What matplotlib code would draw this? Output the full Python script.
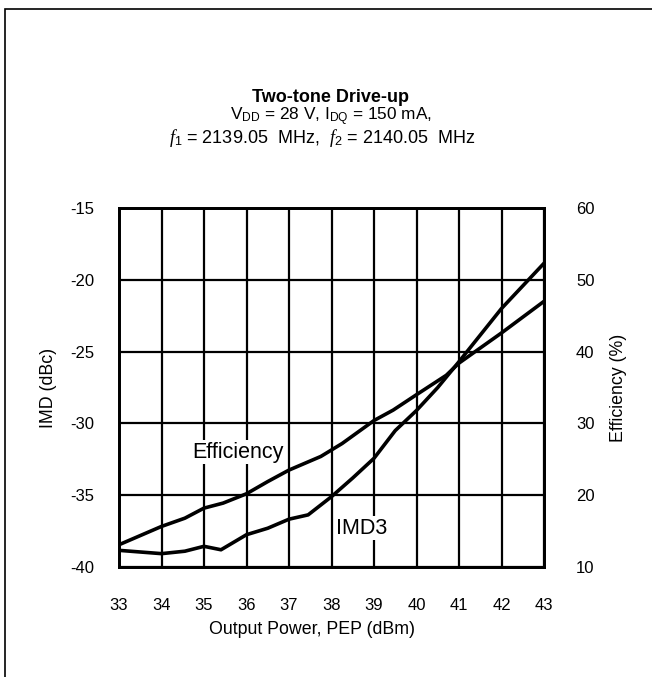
import matplotlib
matplotlib.use("Agg")
import matplotlib.pyplot as plt
from matplotlib.patches import Rectangle

plt.rcParams['font.family'] = ['Liberation Sans', 'DejaVu Sans']
plt.rcParams['mathtext.fontset'] = 'custom'
plt.rcParams['mathtext.rm'] = 'Liberation Sans'
plt.rcParams['mathtext.it'] = 'Liberation Serif:italic'
plt.rcParams['axes.unicode_minus'] = False

# Data
eff_x = [33, 34, 34.55, 35, 35.45, 36, 36.5, 37, 37.75, 38.25, 39, 39.45, 40, 40.7, 41, 42, 43]
eff_y = [13.1, 15.65, 16.8, 18.2, 18.9, 20.2, 21.9, 23.5, 25.4, 27.2, 30.4, 31.85, 34.0, 36.7, 38.4, 42.6, 47.0]
imd_x = [33, 34, 34.55, 35, 35.4, 36, 36.5, 37, 37.45, 38, 38.5, 39, 39.5, 40, 40.5, 41, 42, 43]
imd_y = [-38.84, -39.07, -38.9, -38.56, -38.8, -37.75, -37.3, -36.67, -36.37, -35.1, -33.8, -32.43, -30.5, -29.1, -27.5, -25.7, -22.0, -18.85]
x_ticks = list(range(33, 44))
imd_ticks = [-40, -35, -30, -25, -20, -15]
eff_ticks = [10, 20, 30, 40, 50, 60]

W, H = 652, 677
fig = plt.figure(figsize=(W / 100, H / 100), dpi=100)
fig.patches.append(Rectangle((5 / W, -0.1), 1.2, 1 - 9 / H + 0.1, transform=fig.transFigure,
                             fill=False, edgecolor='black', linewidth=1.2, zorder=0))

ax = fig.add_axes([119 / W, 1 - 567 / H, (544 - 119) / W, (567 - 208) / H])
ax.set_xlim(33, 43)
ax.set_ylim(-40, -15)
ax.set_xticks(x_ticks)
ax.set_yticks(imd_ticks)
ax.tick_params(length=0, labelsize=12, pad=18)
ax.tick_params(axis='x', pad=22)
ax.grid(True, color='black', linewidth=1.6)
for s in ax.spines.values():
    s.set_linewidth(2)
ax.plot(imd_x, imd_y, color='black', linewidth=2.6, zorder=3)
ax.set_ylabel('IMD (dBc)', fontsize=12.8, labelpad=9)

ax2 = ax.twinx()
ax2.set_ylim(10, 60)
ax2.set_yticks(eff_ticks)
ax2.tick_params(length=0, labelsize=12, pad=23)
for s in ax2.spines.values():
    s.set_linewidth(2)
ax2.plot(eff_x, eff_y, color='black', linewidth=2.6, zorder=3)
ax2.set_ylabel('Efficiency (%)', fontsize=12.8, labelpad=11)

fig.text(312 / W, 1 - 630 / H, 'Output Power, PEP (dBm)', fontsize=12.8, ha='center', va='center')

ax.text(35.8, -32.0, 'Efficiency', fontsize=15.5, ha='center', va='center', zorder=4,
        bbox=dict(facecolor='white', edgecolor='none', pad=1.0))
ax.text(38.7, -37.3, 'IMD3', fontsize=15.5, ha='center', va='center', zorder=4,
        bbox=dict(facecolor='white', edgecolor='none', pad=1.0))

fig.text(331 / W, 1 - 98 / H, 'Two-tone Drive-up', fontsize=13, fontweight='bold', ha='center', va='center')
fig.text(331 / W, 1 - 116.5 / H, r'V$_{\rm DD}$ = 28 V, I$_{\rm DQ}$ = 150 mA,', fontsize=12.4, ha='center', va='center')
fig.text(322 / W, 1 - 138 / H, r'$\it{f}_{\rm 1}$ = 2139.05  MHz,  $\it{f}_{\rm 2}$ = 2140.05  MHz', fontsize=13.0, ha='center', va='center')

fig.savefig('out.png', dpi=100)
